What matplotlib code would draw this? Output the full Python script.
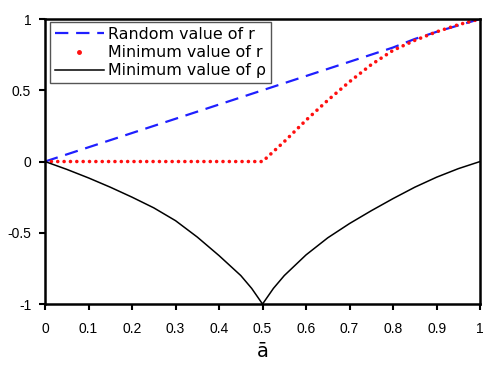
import numpy as np
import matplotlib
matplotlib.use('Agg')
import matplotlib.pyplot as plt
from matplotlib.lines import Line2D

# values
a_vals = [0.0, 0.05, 0.1, 0.15, 0.2, 0.25, 0.3, 0.35, 0.4, 0.45, 0.475, 0.5,
          0.525, 0.55, 0.6, 0.65, 0.7, 0.75, 0.8, 0.85, 0.9, 0.95, 1.0]
random_r = [0.0, 0.05, 0.1, 0.15, 0.2, 0.25, 0.3, 0.35, 0.4, 0.45, 0.475, 0.5,
            0.525, 0.55, 0.6, 0.65, 0.7, 0.75, 0.8, 0.86, 0.91, 0.955, 1.0]
min_r = [0.0, 0.0, 0.0, 0.0, 0.0, 0.0, 0.0, 0.0, 0.0, 0.0, 0.0, 0.0,
         0.07, 0.14, 0.29, 0.43, 0.56, 0.68, 0.78, 0.85, 0.91, 0.96, 1.0]
min_rho = [0.0, -0.055, -0.115, -0.18, -0.25, -0.325, -0.415, -0.53, -0.66, -0.80, -0.89, -1.0,
           -0.89, -0.80, -0.655, -0.535, -0.435, -0.345, -0.26, -0.18, -0.11, -0.05, 0.0]

x_ticks = [0, 0.1, 0.2, 0.3, 0.4, 0.5, 0.6, 0.7, 0.8, 0.9, 1]
x_labels = ['0', '0.1', '0.2', '0.3', '0.4', '0.5', '0.6', '0.7', '0.8', '0.9', '1']
y_ticks = [-1, -0.5, 0, 0.5, 1]
y_labels = ['-1', '-0.5', '0', '0.5', '1']

fig = plt.figure(figsize=(4.98, 3.69), dpi=100)
ax = fig.add_axes([0.0904, 0.176, 0.8736, 0.7725])

ax.plot(a_vals, random_r, color='#1f1fff', lw=1.6, dashes=(6, 3.5))
ax.plot(a_vals, min_r, color='#ff1010', lw=2.6, linestyle=(0, (0.01, 1.75)),
        dash_capstyle='round', solid_capstyle='round')
ax.plot(a_vals, min_rho, color='black', lw=1.1)

ax.set_xlim(0, 1)
ax.set_ylim(-1, 1)
ax.set_xticks(x_ticks)
ax.set_xticklabels(x_labels, fontfamily='Liberation Sans', fontsize=10)
ax.set_yticks(y_ticks)
ax.set_yticklabels(y_labels, fontfamily='Liberation Sans', fontsize=10)
ax.tick_params(direction='out', length=4, width=1.5)
ax.tick_params(axis='x', pad=9)
ax.tick_params(axis='y', pad=6)
for s in ax.spines.values():
    s.set_linewidth(1.8)

ax.set_xlabel('ā', fontfamily='DejaVu Sans', fontsize=14, labelpad=4)

handles = [
    Line2D([], [], color='#1f1fff', lw=1.6, dashes=(6, 3.5)),
    Line2D([], [], color='#ff1010', lw=0, marker='o', markersize=2.5),
    Line2D([], [], color='black', lw=1.1),
]
labels = ['Random value of r', 'Minimum value of r', 'Minimum value of ρ']
leg = ax.legend(handles, labels, loc='upper left', bbox_to_anchor=(0.0115, 0.989),
                prop={'family': 'DejaVu Sans', 'size': 11.4}, fancybox=False,
                edgecolor='#555555', framealpha=1, borderpad=0.3,
                labelspacing=0.2, handlelength=3.1, handletextpad=0.25,
                borderaxespad=0)
leg.get_frame().set_linewidth(1.0)

fig.savefig('out.png', dpi=100)
